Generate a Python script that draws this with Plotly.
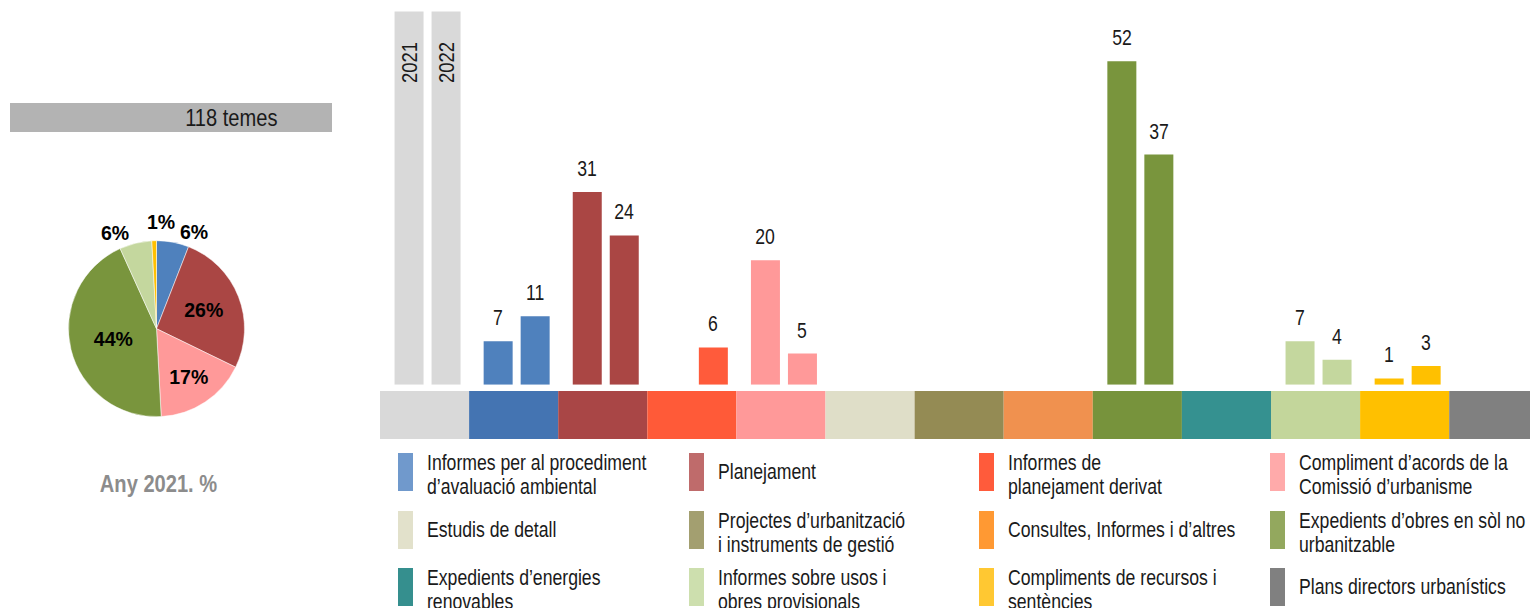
import math
import plotly.graph_objects as go

W, H = 1530, 608

# ---------------- data ----------------
years = ["2021", "2022"]
header_value = 60

categories = [
    "Informes per al procediment d’avaluació ambiental",
    "Planejament",
    "Informes de planejament derivat",
    "Compliment d’acords de la Comissió d’urbanisme",
    "Estudis de detall",
    "Projectes d’urbanització i instruments de gestió",
    "Consultes, Informes i d’altres",
    "Expedients d’obres en sòl no urbanitzable",
    "Expedients d’energies renovables",
    "Informes sobre usos i obres provisionals",
    "Compliments de recursos i sentències",
    "Plans directors urbanístics",
]
legend_lines = [
    ["Informes per al procediment", "d’avaluació ambiental"],
    ["Planejament"],
    ["Informes de", "planejament derivat"],
    ["Compliment d’acords de la", "Comissió d’urbanisme"],
    ["Estudis de detall"],
    ["Projectes d’urbanització", "i instruments de gestió"],
    ["Consultes, Informes i d’altres"],
    ["Expedients d’obres en sòl no", "urbanitzable"],
    ["Expedients d’energies", "renovables"],
    ["Informes sobre usos i", "obres provisionals"],
    ["Compliments de recursos i", "sentències"],
    ["Plans directors urbanístics"],
]
values_2021 = [7, 31, 0, 20, 0, 0, 0, 52, 0, 7, 1, 0]
values_2022 = [11, 24, 6, 5, 0, 0, 0, 37, 0, 4, 3, 0]

bar_colors = ["#4f81bd", "#aa4644", "#ff5b3b", "#ff9999", "#dfdec8", "#948b54",
              "#f0914f", "#79953d", "#359190", "#c4d79e", "#ffc000", "#808080"]
strip_colors = ["#4474b2", "#a94646", "#ff5a38", "#ff9999", "#dfdec8", "#948b54",
                "#f0914f", "#77933c", "#359190", "#c3d69b", "#ffc000", "#808080"]
legend_colors = ["#7099cc", "#bf6b6b", "#ff5b3b", "#ffaaaa", "#e2e1cb", "#a39f70",
                 "#ff9933", "#93a85e", "#358f8e", "#cddfae", "#ffc832", "#808080"]
header_color = "#d9d9d9"

FONT = "Liberation Sans, Arial, sans-serif"
TXT = "#1a1a1a"

# ---------------- geometry ----------------
px_unit = 6.22          # pixels per value unit
base_y = 384.7          # baseline of the bars (px from top)
x_left = 380            # left edge of the bar area
slot_px = 89.1          # width of one category slot
x_max = -0.5 + (W - x_left) / slot_px
bar_w = 29 / slot_px
offsets = [-30 / slot_px, 7 / slot_px]

slots = list(range(len(categories) + 1))
fig = go.Figure()

series = [values_2021, values_2022]
for k, yr in enumerate(years):
    vals = [header_value] + series[k]
    fig.add_trace(go.Bar(
        x=slots, y=vals, width=bar_w, offset=offsets[k],
        marker=dict(color=[header_color] + bar_colors, line=dict(width=0)),
        name=yr, hoverinfo="y", showlegend=False,
        xaxis="x", yaxis="y",
    ))

# color strip under the bars
fig.add_trace(go.Bar(
    x=slots, y=[1] * len(slots), width=1,
    marker=dict(color=[header_color] + strip_colors, line=dict(width=0)),
    hoverinfo="skip", showlegend=False, xaxis="x2", yaxis="y2",
))

annotations = []
# value labels
for k in range(len(years)):
    for i, v in enumerate(series[k]):
        if v > 0:
            annotations.append(dict(
                x=i + 1 + offsets[k] + bar_w / 2, y=v, xref="x", yref="y",
                text=str(v), showarrow=False, xanchor="center", yanchor="bottom", yshift=9,
                font=dict(family=FONT, size=21.5, color=TXT)))
# year labels in header bars
for k, yr in enumerate(years):
    annotations.append(dict(
        x=0 + offsets[k] + bar_w / 2, y=header_value, xref="x", yref="y",
        text=yr, showarrow=False, textangle=-90, xanchor="center", yanchor="middle",
        yshift=-51, font=dict(family=FONT, size=22.5, color=TXT)))

# pie (2021)
pie_vals = [v for v in values_2021 if v > 0]
pie_labels = [c for c, v in zip(categories, values_2021) if v > 0]
pie_cols = [c for c, v in zip(bar_colors, values_2021) if v > 0]
total = sum(values_2021)
is_inside = [v / total > 0.1 for v in pie_vals]
cx, cy, r = 156.5, 328.7, 88
PIEFONT = dict(family=FONT, size=19.5, color="black", weight="bold")
fig.add_trace(go.Pie(
    values=pie_vals, labels=pie_labels, sort=False, direction="clockwise", rotation=0,
    marker=dict(colors=pie_cols, line=dict(color="white", width=0.5)),
    texttemplate="%{percent:.0%}",
    textposition=["inside" if ins else "none" for ins in is_inside],
    insidetextorientation="horizontal",
    textfont=PIEFONT,
    domain=dict(x=[(cx - r) / W, (cx + r) / W], y=[1 - (cy + r) / H, 1 - (cy - r) / H]),
    showlegend=False, hoverinfo="label+value",
))
# small-slice labels placed just outside the slice edge
cum = 0
for v, ins in zip(pie_vals, is_inside):
    mid = math.radians((cum + v / 2) / total * 360)
    cum += v
    if ins:
        continue
    ex = cx + r * math.sin(mid)
    ey = cy - r * math.cos(mid)
    s = math.sin(mid)
    if s > 0.1:
        xa, xs, ys = "left", 5, -3
    elif s < -0.1:
        xa, xs, ys = "right", -5, -3
    else:
        xa, xs, ys = "center", 7, 6
    annotations.append(dict(
        x=ex / W, y=1 - ey / H, xref="paper", yref="paper", text=f"{round(100 * v / total)}%",
        showarrow=False, xanchor=xa, yanchor="bottom", xshift=xs, yshift=ys,
        font=PIEFONT, name="wide"))

shapes = []
# total header box
shapes.append(dict(type="rect", xref="paper", yref="paper",
                   x0=10 / W, x1=332 / W, y0=1 - 132 / H, y1=1 - 103 / H,
                   fillcolor="#b3b3b3", line=dict(width=0), layer="below"))
annotations.append(dict(x=231 / W, y=1 - 117.5 / H, xref="paper", yref="paper",
                        text=f"{total} temes", showarrow=False, xanchor="center", yanchor="middle",
                        font=dict(family=FONT, size=24.5, color=TXT)))
annotations.append(dict(x=158.5 / W, y=1 - 483 / H, xref="paper", yref="paper",
                        text=f"Any {years[0]}. %", showarrow=False, xanchor="center", yanchor="middle",
                        font=dict(family=FONT, size=24.5, color="#8c8c8c", weight="bold")))

# legend
col_x = [398, 689, 979, 1270]
row_top = [453, 511, 568]
sw_w, sw_h = 15, 38
for idx, lines in enumerate(legend_lines):
    r_i, c_i = divmod(idx, 4)
    x0 = col_x[c_i]
    y0 = row_top[r_i]
    shapes.append(dict(type="rect", xref="paper", yref="paper",
                       x0=x0 / W, x1=(x0 + sw_w) / W,
                       y0=1 - (y0 + sw_h) / H, y1=1 - y0 / H,
                       fillcolor=legend_colors[idx], line=dict(width=0)))
    yc = y0 + sw_h / 2
    if len(lines) == 1:
        ys = [yc]
    else:
        ys = [yc - 9.5, yc + 15]
    for ln, yy in zip(lines, ys):
        annotations.append(dict(x=(x0 + 27) / W, y=1 - yy / H, xref="paper", yref="paper",
                                text=ln, showarrow=False, xanchor="left", yanchor="middle",
                                align="left",
                                font=dict(family=FONT, size=21.5, color=TXT)))

fig.update_layout(
    width=W, height=H, margin=dict(l=0, r=0, t=0, b=0),
    paper_bgcolor="white", plot_bgcolor="white",
    barmode="overlay", showlegend=False,
    xaxis=dict(domain=[x_left / W, 1], range=[-0.5, x_max], visible=False, fixedrange=True),
    yaxis=dict(domain=[1 - base_y / H, 1], range=[0, base_y / px_unit], visible=False, fixedrange=True),
    xaxis2=dict(domain=[x_left / W, 1], range=[-0.5, x_max], visible=False, anchor="y2", fixedrange=True),
    yaxis2=dict(domain=[1 - 439 / H, 1 - 391 / H], range=[0, 1], visible=False, anchor="x2", fixedrange=True),
    annotations=annotations, shapes=shapes,
)

# page without body margin; annotation texts set in a narrow (condensed) width
post = """
document.body.style.margin = '0';
document.body.style.overflow = 'hidden';
var gd = document.getElementsByClassName('plotly-graph-div')[0];
var anns = gd.layout.annotations;
var groups = gd.querySelectorAll('g.annotation');
groups.forEach(function(g){
  var idx = parseInt(g.getAttribute('data-index'));
  if (anns[idx] && anns[idx].name === 'wide') return;
  var t = g.querySelector('text.annotation-text');
  if (!t) return;
  var L = t.getComputedTextLength();
  t.setAttribute('textLength', (L * 0.82).toFixed(2));
  t.setAttribute('lengthAdjust', 'spacingAndGlyphs');
});
"""
fig.write_html("out.html", post_script=post, config={"displayModeBar": False})
